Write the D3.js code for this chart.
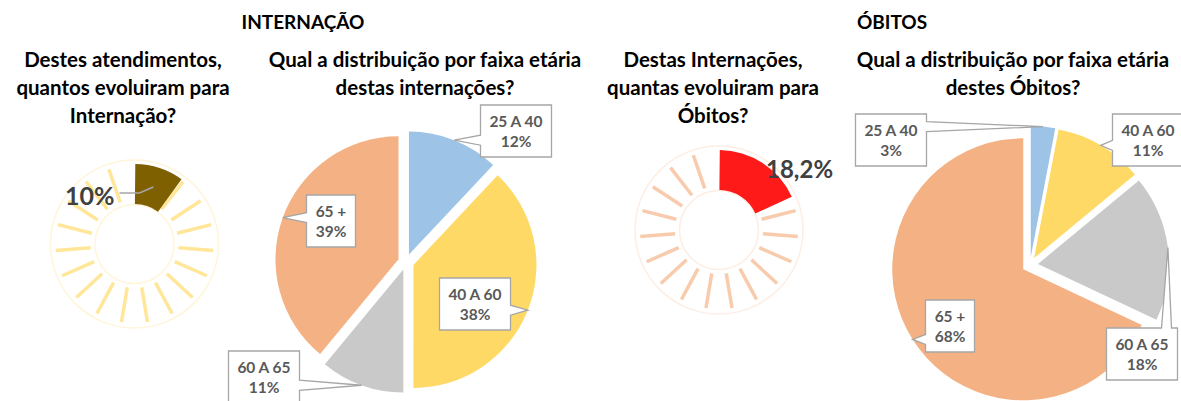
<!DOCTYPE html>
<html><head><meta charset="utf-8">
<script src="https://cdn.jsdelivr.net/npm/d3@7"></script>
<style>body{margin:0;background:#fff}svg{display:block}</style>
</head><body>
<svg id="chart" width="1181" height="401"></svg>
<script>
// ---------- data ----------
const ageCategories = ["25 A 40", "40 A 60", "60 A 65", "65 +"];
const internacaoValues = [12, 38, 11, 39];   // % das internações por faixa etária
const obitosValues = [3, 11, 18, 68];        // % dos óbitos por faixa etária
const evolucaoValues = [10, 18.2];           // % atendimentos->internação, internações->óbitos
const evolucaoLabels = ["10%", "18,2%"];
const sectionTitles = ["INTERNAÇÃO", "ÓBITOS"];
const donutTitles = [
  ["Destes atendimentos,", "quantos evoluiram para", "Internação?"],
  ["Destas Internações,", "quantas evoluiram para", "Óbitos?"]
];
const pieTitles = [
  ["Qual a distribuição por faixa etária", "destas internações?"],
  ["Qual a distribuição por faixa etária", "destes Óbitos?"]
];

// ---------- styles / layout ----------
const sliceColors = ["#9DC3E6", "#FFD966", "#C9C9C9", "#F4B183"];
const donutStyles = [
  {cx: 134.5, cy: 244, fill: "#7F6000", ray: "#FFE699", faint: "#FFF5D9"},
  {cx: 719, cy: 230, fill: "#FF1A1A", ray: "#F8CBAD", faint: "#FDEEE4"}
];
const pieLayouts = [
  {cx: 406, cy: 262, r: 123, boxes: [[516, 131], [475, 304], [264, 377], [331, 221]]},
  {cx: 1030, cy: 265, r: 131, boxes: [[891, 140], [1148, 140], [1142, 354], [950, 326]]}
];
const titleFont = "Lato, 'Open Sans', sans-serif";
const svg = d3.select("#chart");

// ---------- titles ----------
svg.append("text").attr("x", 303).attr("y", 29).attr("text-anchor", "middle")
  .attr("font-family", titleFont).attr("font-weight", 700).attr("font-size", 19)
  .text(sectionTitles[0]);
svg.append("text").attr("x", 892).attr("y", 29).attr("text-anchor", "middle")
  .attr("font-family", titleFont).attr("font-weight", 700).attr("font-size", 19)
  .text(sectionTitles[1]);

function titleBlock(lines, cx) {
  svg.append("g").selectAll("text").data(lines).join("text")
    .attr("x", cx).attr("y", (d, i) => 67 + i * 28)
    .attr("text-anchor", "middle").attr("font-family", titleFont)
    .attr("font-weight", 700).attr("font-size", 20.5).attr("fill", "#000")
    .text(d => d);
}
titleBlock(donutTitles[0], 123);
titleBlock(pieTitles[0], 425);
titleBlock(donutTitles[1], 713);
titleBlock(pieTitles[1], 1013);

// ---------- donuts (progress style) ----------
const angleScale = d3.scaleLinear().domain([0, 100]).range([0, 2 * Math.PI]);
const RAYS = 19;
function donut(idx) {
  const st = donutStyles[idx];
  const value = evolucaoValues[idx];
  const g = svg.append("g").attr("transform", `translate(${st.cx},${st.cy})`);
  const valAngle = angleScale(value);
  g.append("circle").attr("r", 84).attr("fill", "none").attr("stroke", st.faint).attr("stroke-width", 1.5);
  g.append("circle").attr("r", 39.5).attr("fill", "none").attr("stroke", st.faint).attr("stroke-width", 1.5);
  const rays = d3.range(RAYS).map(i => i * 2 * Math.PI / RAYS).filter(a => a > valAngle);
  g.selectAll("line.ray").data(rays).join("line").attr("class", "ray")
    .attr("x1", a => 44 * Math.sin(a)).attr("y1", a => -44 * Math.cos(a))
    .attr("x2", a => 79 * Math.sin(a)).attr("y2", a => -79 * Math.cos(a))
    .attr("stroke", st.ray).attr("stroke-width", 3.5);
  const arc = d3.arc().innerRadius(40).outerRadius(80);
  const seg = {startAngle: 0.01, endAngle: valAngle};
  g.append("path").attr("d", arc(seg)).attr("fill", st.fill);
  return {g, arc, seg, st};
}
const d1 = donut(0);
const d2 = donut(1);
// label for donut 1 with leader line
{
  const t = svg.append("text").attr("x", 65).attr("y", 205)
    .attr("font-family", titleFont).attr("font-weight", 700).attr("font-size", 25)
    .attr("fill", "#404040").text(evolucaoLabels[0]);
  const w = t.node().getComputedTextLength();
  const c = d1.arc.centroid(d1.seg);
  const pts = [[65 + w + 5 - d1.st.cx, 193 - d1.st.cy], [5, 193 - d1.st.cy], c];
  d1.g.append("path").attr("d", d3.line()(pts)).attr("fill", "none")
    .attr("stroke", "#A6A6A6").attr("stroke-width", 1.5);
}
svg.append("text").attr("x", 766).attr("y", 178)
  .attr("font-family", titleFont).attr("font-weight", 700).attr("font-size", 24)
  .attr("fill", "#404040").text(evolucaoLabels[1]);

// ---------- exploded pies with callout labels ----------
function calloutPath(x, y, w, h, tx, ty) {
  const hw = 5, m = 6;
  let side;
  if (tx < x) side = "left"; else if (tx > x + w) side = "right";
  else if (ty < y) side = "top"; else side = "bottom";
  const cl = (v, a, b) => Math.max(a, Math.min(b, v));
  const p = d3.path();
  p.moveTo(x, y);
  if (side === "top") { const c = cl(tx, x + m + hw, x + w - m - hw); p.lineTo(c - hw, y); p.lineTo(tx, ty); p.lineTo(c + hw, y); }
  p.lineTo(x + w, y);
  if (side === "right") { const c = cl(ty, y + m + hw, y + h - m - hw); p.lineTo(x + w, c - hw); p.lineTo(tx, ty); p.lineTo(x + w, c + hw); }
  p.lineTo(x + w, y + h);
  if (side === "bottom") { const c = cl(tx, x + m + hw, x + w - m - hw); p.lineTo(c + hw, y + h); p.lineTo(tx, ty); p.lineTo(c - hw, y + h); }
  p.lineTo(x, y + h);
  if (side === "left") { const c = cl(ty, y + m + hw, y + h - m - hw); p.lineTo(x, c + hw); p.lineTo(tx, ty); p.lineTo(x, c - hw); }
  p.closePath();
  return p.toString();
}

function pie(idx, values) {
  const L = pieLayouts[idx];
  const explode = 8;
  const g = svg.append("g").attr("transform", `translate(${L.cx},${L.cy})`);
  const data = ageCategories.map((c, i) => ({cat: c, value: values[i], i}));
  const arcs = d3.pie().sort(null).value(d => d.value)(data);
  const arc = d3.arc().innerRadius(0).outerRadius(L.r);
  const color = d3.scaleOrdinal().domain(ageCategories).range(sliceColors);
  const mid = d => (d.startAngle + d.endAngle) / 2;
  g.selectAll("path.slice").data(arcs).join("path").attr("class", "slice")
    .attr("transform", d => `translate(${explode * Math.sin(mid(d))},${-explode * Math.cos(mid(d))})`)
    .attr("d", arc).attr("fill", d => color(d.data.cat));
  // labels
  const lg = svg.append("g");
  arcs.forEach((d, k) => {
    const a = mid(d), rr = L.r + explode;
    const tx = L.cx + rr * Math.sin(a), ty = L.cy - rr * Math.cos(a);
    const [bx, by] = L.boxes[k];
    const grp = lg.append("g");
    const t = grp.append("text").attr("text-anchor", "middle")
      .attr("font-family", titleFont).attr("font-weight", 700).attr("font-size", 15.5).attr("fill", "#595959");
    t.append("tspan").attr("x", bx).attr("y", by - 4).text(d.data.cat);
    t.append("tspan").attr("x", bx).attr("y", by + 16).text(d.data.value + "%");
    const tw = t.node().getBBox().width;
    const w = Math.round(tw + 18), h = 52;
    grp.insert("path", "text").attr("d", calloutPath(bx - w / 2, by - h / 2, w, h, tx, ty))
      .attr("fill", "#fff").attr("stroke", "#A6A6A6").attr("stroke-width", 1.3);
  });
}
pie(0, internacaoValues);
pie(1, obitosValues);
</script>
</body></html>
